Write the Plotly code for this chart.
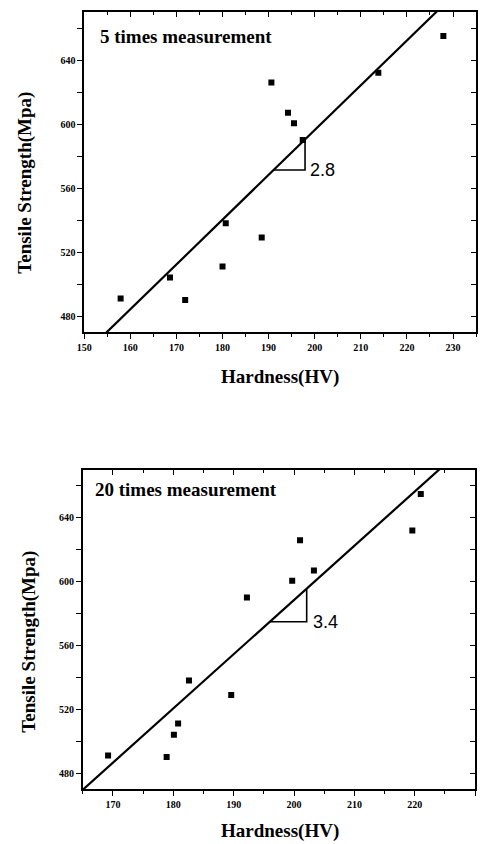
import plotly.graph_objects as go

# ---- data ----
strength = [491, 504, 490, 511, 538, 529, 626, 607, 600.5, 590, 632, 655]
hardness_5 = [157.9, 168.6, 171.9, 180.0, 180.7, 188.5, 190.6, 194.2, 195.5, 197.4, 213.8, 227.9]
hardness_20 = [169.2, 180.1, 178.9, 180.8, 182.6, 189.6, 201.0, 203.3, 199.7, 192.2, 219.6, 221.0]

panel_labels = ["5 times measurement", "20 times measurement"]
fit_slopes = [2.8, 3.4]
fit_intercepts = [36.2, -91.5]
slope_labels = ["2.8", "3.4"]
triangle_x = [[191.1, 197.9], [196.0, 202.1]]

x_ranges = [[150, 235], [165, 230]]
y_range = [470, 670]
x_title = "Hardness(HV)"
y_title = "Tensile Strength(Mpa)"

W, H = 481, 844
SERIF = "Liberation Serif"

fig = go.Figure()

series = [hardness_5, hardness_20]
xnames = ["x", "x2"]
ynames = ["y", "y2"]
for i in range(2):
    xa, ya = xnames[i], ynames[i]
    m, b = fit_slopes[i], fit_intercepts[i]
    fig.add_trace(go.Scatter(x=series[i], y=strength, mode="markers",
                             marker=dict(symbol="square", size=6, color="black"),
                             xaxis=xa, yaxis=ya, showlegend=False))
    xr = x_ranges[i]
    fig.add_trace(go.Scatter(x=xr, y=[m * v + b for v in xr], mode="lines",
                             line=dict(color="black", width=2.2),
                             xaxis=xa, yaxis=ya, showlegend=False))
    t0, t1 = triangle_x[i]
    fig.add_trace(go.Scatter(x=[t0, t1, t1], y=[m * t0 + b, m * t0 + b, m * t1 + b],
                             mode="lines", line=dict(color="black", width=1.6),
                             xaxis=xa, yaxis=ya, showlegend=False))
    fig.add_annotation(x=t1 + 0.6 * (1 if i == 0 else 1.3), y=m * t0 + b, xref=xa, yref=ya,
                       text=slope_labels[i], showarrow=False, xanchor="left", yanchor="middle",
                       font=dict(family="Liberation Sans", size=18, color="black"))

# panel geometry in pixels
xdom_px = [(77.5, 476), (76, 475)]
ydom_px = [(12, 332), (470, 789)]

tickfont = dict(family=SERIF, size=10, color="black", weight="bold")

def xdom(p):
    return [p[0] / W, p[1] / W]

def ydom(p):
    return [1 - p[1] / H, 1 - p[0] / H]

layout = dict(width=W, height=H, margin=dict(l=0, r=0, t=0, b=0),
              paper_bgcolor="white", plot_bgcolor="white", showlegend=False)

for i in range(2):
    sfx = "" if i == 0 else "2"
    osfx = "3" if i == 0 else "4"
    xr = x_ranges[i]
    common_x = dict(range=xr, dtick=10, tick0=xr[0] - xr[0] % 10, showgrid=False, zeroline=False,
                    tickcolor="black", tickwidth=1.3, ticklen=5,
                    minor=dict(dtick=5, ticks=None, ticklen=3, tickcolor="black", tickwidth=1.1))
    common_y = dict(range=y_range, dtick=40, tick0=480, showgrid=False, zeroline=False,
                    tickcolor="black", tickwidth=1.3, ticklen=5,
                    minor=dict(dtick=20, ticks=None, ticklen=5, tickcolor="black", tickwidth=1.3))
    layout["xaxis" + sfx] = dict(domain=xdom(xdom_px[i]), anchor="y" + sfx, ticks="outside",
                                 showline=True, linecolor="black", linewidth=1.6, mirror=True,
                                 tickfont=tickfont, **common_x)
    layout["xaxis" + sfx]["minor"]["ticks"] = "outside"
    layout["yaxis" + sfx] = dict(domain=ydom(ydom_px[i]), anchor="x" + sfx, ticks="outside",
                                 showline=True, linecolor="black", linewidth=1.6, mirror=True,
                                 tickfont=tickfont, **common_y)
    layout["yaxis" + sfx]["minor"]["ticks"] = "outside"
    # mirrored inside ticks (top and right)
    cx = dict(common_x)
    cx["minor"] = dict(common_x["minor"], ticks="inside")
    cy = dict(common_y)
    cy["minor"] = dict(common_y["minor"], ticks="inside")
    layout["xaxis" + osfx] = dict(overlaying="x" + sfx, side="top", anchor="y" + sfx,
                                  ticks="inside", showticklabels=False, showline=False, **cx)
    layout["yaxis" + osfx] = dict(overlaying="y" + sfx, side="right", anchor="x" + sfx,
                                  ticks="inside", showticklabels=False, showline=False, **cy)

fig.update_layout(**layout)
# dummy traces so the mirror axes are drawn
for i in range(2):
    osfx = "3" if i == 0 else "4"
    fig.add_trace(go.Scatter(x=[None], y=[None], xaxis="x" + osfx, yaxis="y" + osfx,
                             showlegend=False, hoverinfo="skip"))

# titles and panel labels
label_pos = [(92, 36.7), (86, 489)]
xtitle_pos = [(277, 377), (277, 831)]
ytitle_pos = [(17, 183), (21, 642)]
for i in range(2):
    fig.add_annotation(x=label_pos[i][0] / W, y=1 - label_pos[i][1] / H, xref="paper", yref="paper",
                       text="<b>" + panel_labels[i] + "</b>", showarrow=False,
                       xanchor="left", yanchor="middle",
                       font=dict(family=SERIF, size=19, color="black"))
    fig.add_annotation(x=xtitle_pos[i][0] / W, y=1 - xtitle_pos[i][1] / H, xref="paper", yref="paper",
                       text="<b>" + x_title + "</b>", showarrow=False,
                       xanchor="center", yanchor="middle",
                       font=dict(family=SERIF, size=19, color="black"))
    fig.add_annotation(x=ytitle_pos[i][0] / W, y=1 - ytitle_pos[i][1] / H, xref="paper", yref="paper",
                       text="<b>" + y_title + "</b>", showarrow=False, textangle=-90,
                       xanchor="center", yanchor="middle",
                       font=dict(family=SERIF, size=19, color="black"))

fig.write_html("out.html", config={"displayModeBar": False},
               post_script="document.body.style.margin='0';document.body.style.overflow='hidden';")
